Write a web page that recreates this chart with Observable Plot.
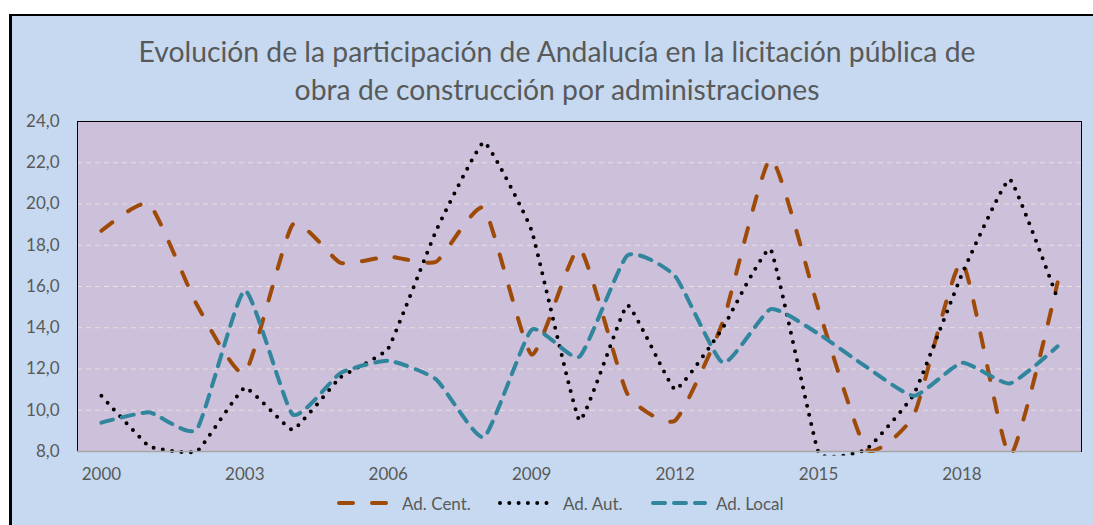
<!DOCTYPE html>
<html>
<head>
<meta charset="utf-8">
<script src="https://cdn.jsdelivr.net/npm/d3@7"></script>
<script src="https://cdn.jsdelivr.net/npm/@observablehq/plot@0.6"></script>
<style>
  html, body { margin: 0; padding: 0; background: #ffffff; width: 1093px; height: 525px; overflow: hidden; }
  #frame { position: absolute; left: 9px; top: 14px; width: 1100px; height: 520px; background: #c6d9f0; border-left: 3px solid #000; border-top: 2px solid #000; }
  .title { position: absolute; left: 9px; width: 1096px; text-align: center; font-family: Lato, "Open Sans", sans-serif; font-size: 28.3px; color: #595959; white-space: nowrap; }
  #chart { position: absolute; left: 0; top: 110px; }
  #legend { position: absolute; left: 0; top: 492px; width: 1093px; height: 22px; font-family: Lato, sans-serif; font-size: 17px; color: #595959; }
  .item { position: absolute; top: 0; height: 22px; display: flex; align-items: center; }
  .item svg { margin-right: 9px; }
</style>
</head>
<body>
<div id="frame"></div>
<div class="title" style="top:34px">Evolución de la participación de Andalucía en la licitación pública de</div>
<div class="title" style="top:72px">obra de construcción por administraciones</div>
<div id="chart"></div>
<div id="legend"></div>
<script>
const years = [2000, 2001, 2002, 2003, 2004, 2005, 2006, 2007, 2008, 2009, 2010, 2011, 2012, 2013, 2014, 2015, 2016, 2017, 2018, 2019, 2020];
const adCent = [18.7, 20.0, 15.1, 11.8, 19.0, 17.15, 17.45, 17.2, 19.8, 12.7, 17.85, 10.8, 9.5, 14.3, 22.2, 14.9, 8.1, 9.8, 17.2, 7.8, 16.2];
const adAut = [10.7, 8.25, 8.0, 11.1, 9.05, 11.6, 13.0, 18.7, 23.0, 18.7, 9.5, 15.1, 11.0, 14.0, 17.8, 7.95, 8.1, 10.8, 16.6, 21.2, 15.4];
const adLocal = [9.4, 9.9, 9.1, 15.8, 9.8, 11.8, 12.4, 11.5, 8.7, 13.9, 12.6, 17.5, 16.5, 12.3, 14.9, 13.7, 12.1, 10.7, 12.3, 11.3, 13.1];
const seriesNames = ["Ad. Cent.", "Ad. Aut.", "Ad. Local"];
const xTicks = [2000, 2003, 2006, 2009, 2012, 2015, 2018];
const yTicks = [8, 10, 12, 14, 16, 18, 20, 22, 24];
const gridValues = [10, 12, 14, 16, 18, 20, 22];

const styles = [
  {stroke: "#9e4a08", dash: "14,19", width: 4, tension: 0.5},
  {stroke: "#000000", dash: "0,9.3", width: 4, tension: 0.7},
  {stroke: "#31859c", dash: "12,9", width: 4, tension: 0.5}
];

const seriesValues = [adCent, adAut, adLocal];
const rows = [];
seriesNames.forEach((name, i) => {
  years.forEach((yr, j) => rows.push({series: name, year: yr, value: seriesValues[i][j]}));
});

const lineMarks = seriesNames.map((name, i) => Plot.line(rows.filter(d => d.series === name), {
  x: "year", y: "value", stroke: styles[i].stroke, strokeWidth: styles[i].width,
  strokeDasharray: styles[i].dash, strokeLinecap: "round", strokeLinejoin: "round",
  curve: "cardinal", tension: styles[i].tension
}));

const W = 1093, H = 380, ML = 77, MR = 12, MT = 11, MB = 39;
const chart = Plot.plot({
  width: W, height: H,
  marginLeft: ML, marginRight: MR, marginTop: MT, marginBottom: MB,
  style: {background: "transparent", fontFamily: "Lato, sans-serif", fontSize: "17px", color: "#595959"},
  x: {type: "point", domain: years, padding: 0.5, round: false, ticks: xTicks, tickFormat: d => String(d), tickSize: 0, tickPadding: 16, label: null},
  y: {domain: [8, 24], ticks: yTicks, tickFormat: d => d.toFixed(1).replace(".", ","), tickSize: 0, tickPadding: 18, label: null},
  marks: [
    Plot.frame({fill: "#ccc0da"}),
    Plot.ruleY(gridValues, {stroke: "#e6e0df", strokeWidth: 1.2, strokeDasharray: "5,4"}),
    ...lineMarks,
    Plot.frame({stroke: "#000000", strokeWidth: 1}),
    Plot.ruleY([8], {stroke: "#a6a6a6", strokeWidth: 1.5})
  ]
});

// clip the series lines to the plot area, allowing a few pixels below the axis (as the original does)
const ns = "http://www.w3.org/2000/svg";
const defs = document.createElementNS(ns, "defs");
const cp = document.createElementNS(ns, "clipPath");
cp.setAttribute("id", "plotclip");
const cr = document.createElementNS(ns, "rect");
cr.setAttribute("x", ML); cr.setAttribute("y", MT);
cr.setAttribute("width", W - ML - MR); cr.setAttribute("height", H - MT - MB + 4);
cp.appendChild(cr); defs.appendChild(cp);
chart.appendChild(defs);
chart.querySelectorAll('g[aria-label="line"]').forEach(g => g.setAttribute("clip-path", "url(#plotclip)"));
document.getElementById("chart").appendChild(chart);

// legend
const legendPos = [337, 498, 651];
const legend = document.getElementById("legend");
seriesNames.forEach((name, i) => {
  const item = document.createElement("div");
  item.className = "item";
  item.style.left = legendPos[i] + "px";
  const svg = document.createElementNS(ns, "svg");
  svg.setAttribute("width", 56); svg.setAttribute("height", 10);
  const ln = document.createElementNS(ns, "line");
  ln.setAttribute("x1", 2); ln.setAttribute("x2", 54); ln.setAttribute("y1", 5); ln.setAttribute("y2", 5);
  ln.setAttribute("stroke", styles[i].stroke); ln.setAttribute("stroke-width", styles[i].width);
  ln.setAttribute("stroke-dasharray", styles[i].dash); ln.setAttribute("stroke-linecap", "round");
  svg.appendChild(ln);
  item.appendChild(svg);
  const t = document.createElement("span");
  t.textContent = name;
  item.appendChild(t);
  legend.appendChild(item);
});
</script>
</body>
</html>
